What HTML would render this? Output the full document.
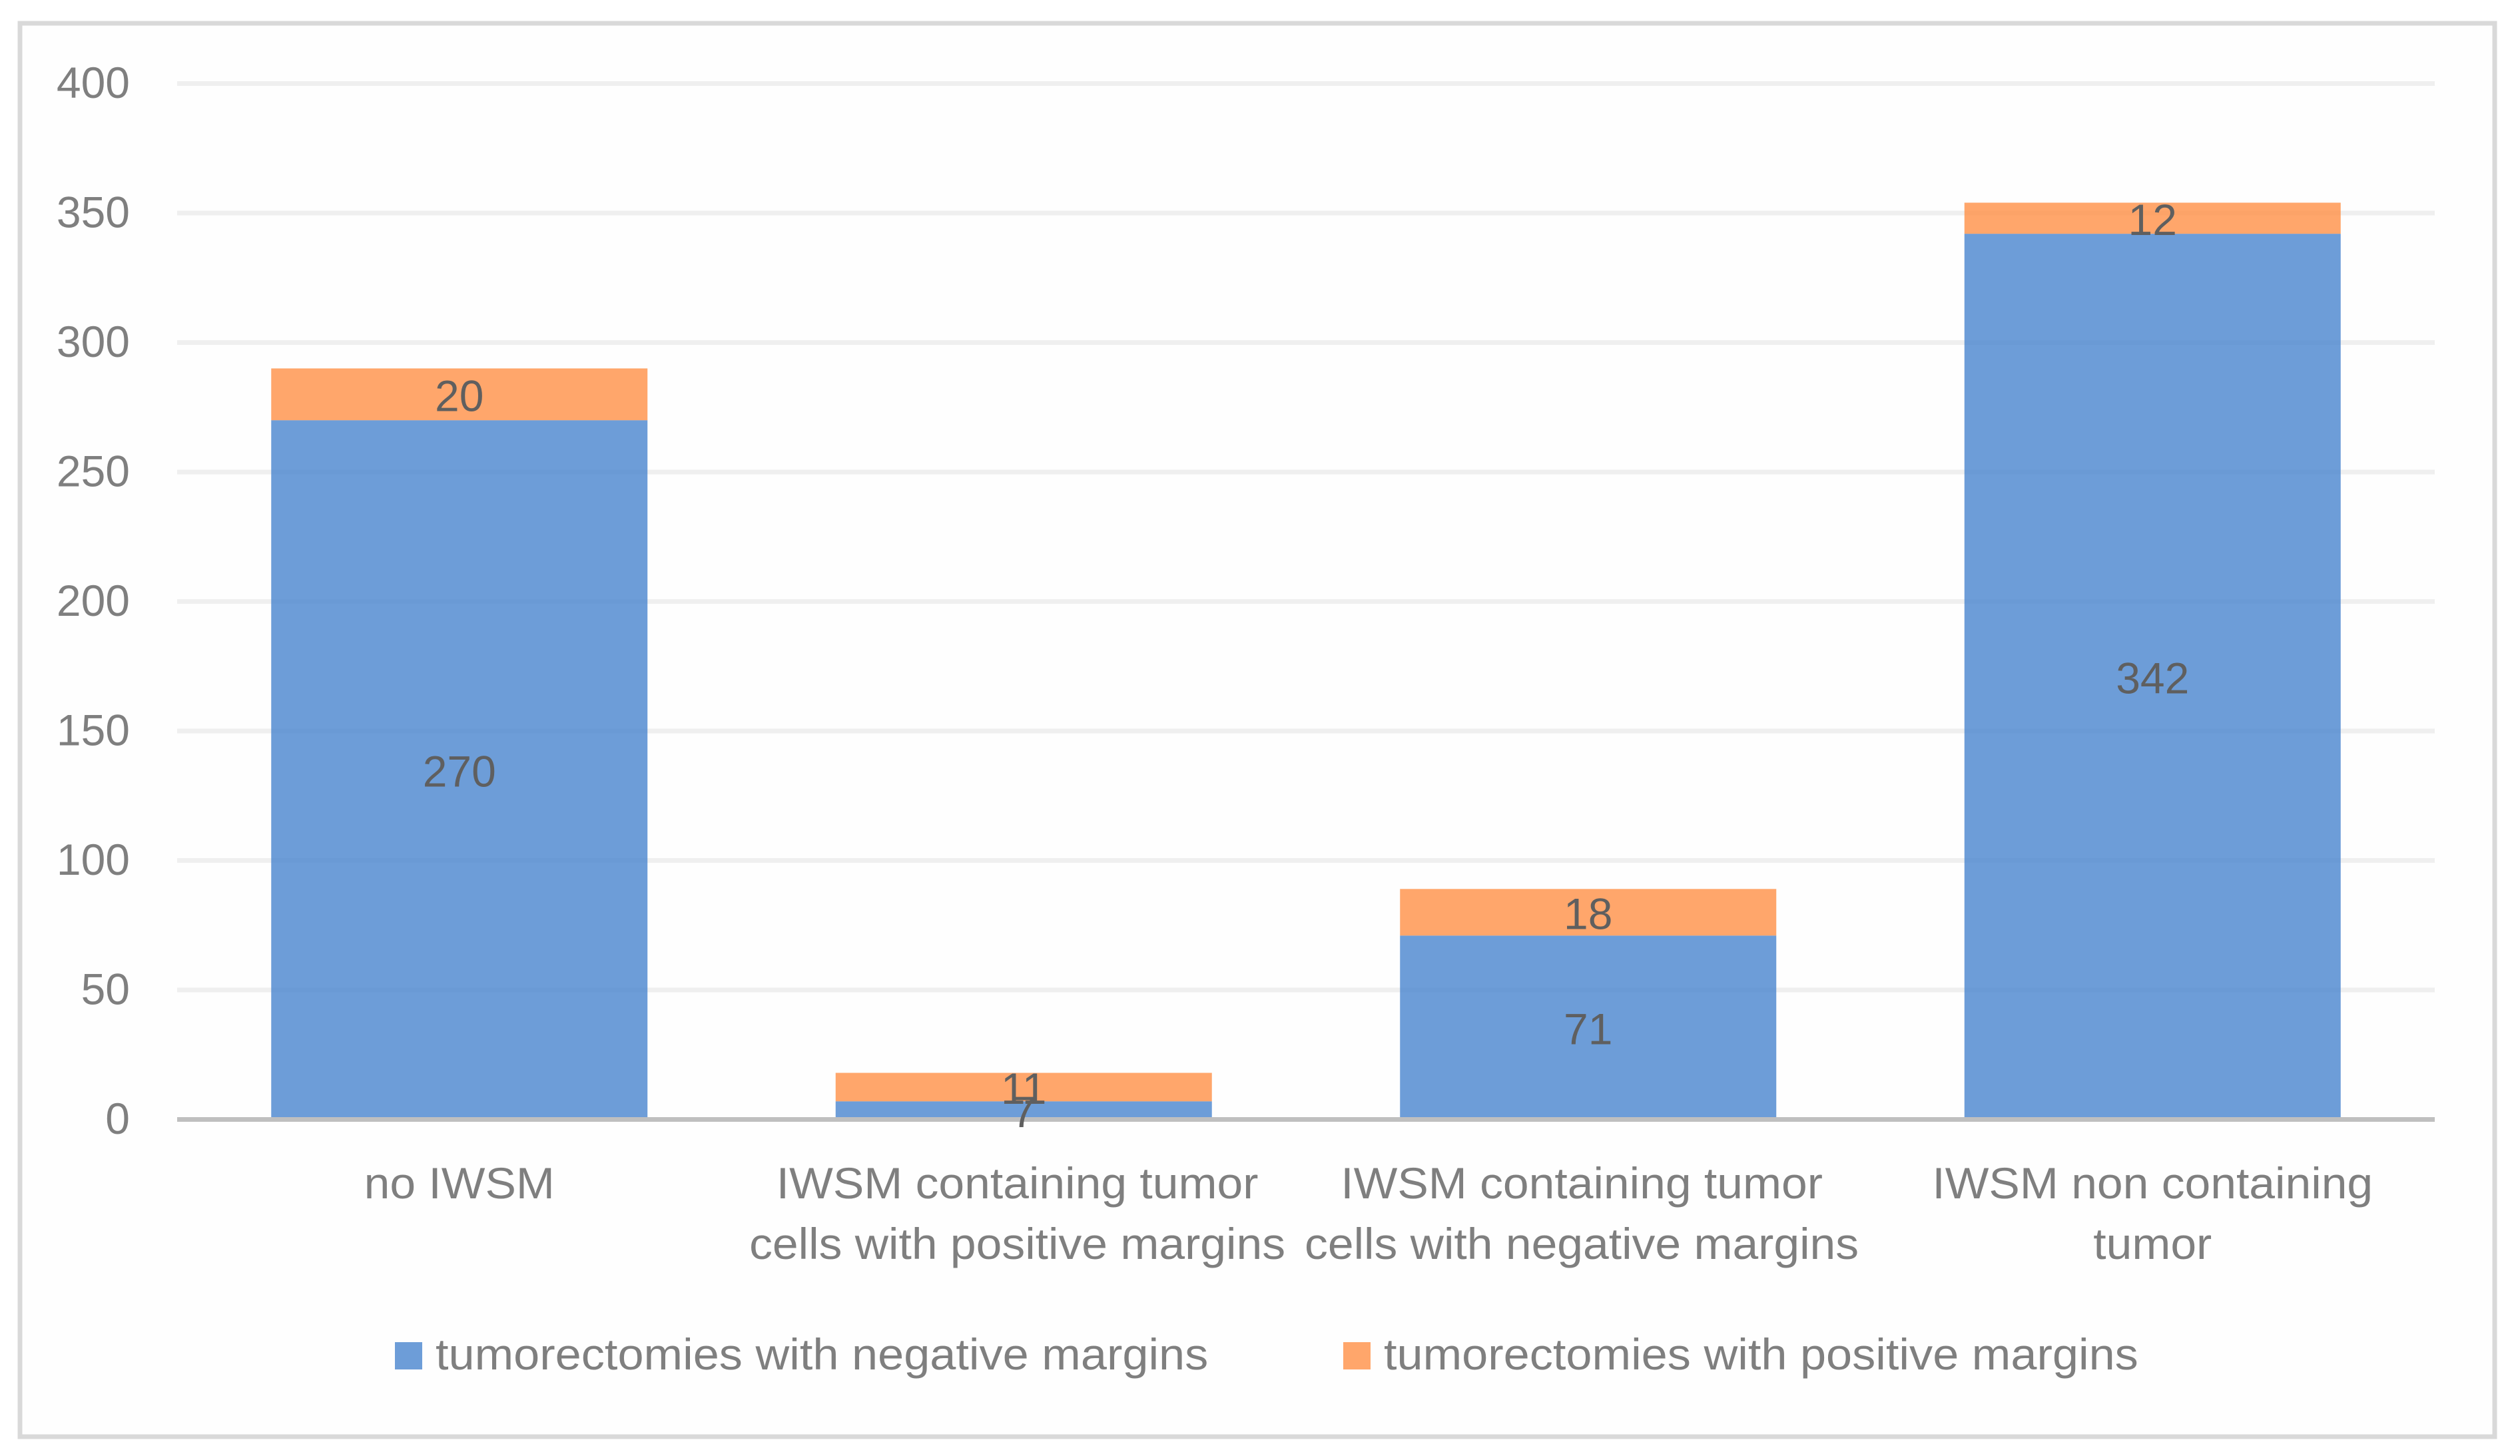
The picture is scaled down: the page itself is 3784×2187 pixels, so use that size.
<!DOCTYPE html>
<html lang="en">
<head>
<meta charset="utf-8">
<title>Tumorectomies by IWSM status and margin result</title>
<style>
  html, body { margin: 0; padding: 0; background: #ffffff; width: 3784px; height: 2187px; overflow: hidden; }
  svg { display: block; font-family: "Liberation Sans", sans-serif; }
</style>
</head>
<body>
<svg id="chart" xmlns="http://www.w3.org/2000/svg" width="3784" height="2187" viewBox="0 0 3784 2187">
  <rect x="30" y="35" width="3716" height="2123" fill="#fefefe" stroke="#d9d9d9" stroke-width="7"/>
  <g id="grid"></g>
  <g id="yTicks"></g>
  <g id="bars"></g>
  <rect x="266" y="1678" width="3390" height="7" fill="#bfbfbf"/>
  <g id="valueLabels"></g>
  <g id="xLabels"></g>
  <g id="legend"></g>
</svg>
<script>
const categories = [
  ["no IWSM"],
  ["IWSM containing tumor\u00A0", "cells with positive margins\u00A0"],
  ["IWSM containing tumor\u00A0", "cells with negative margins\u00A0"],
  ["IWSM non containing", "tumor"]
];
const negativeValues = [270, 7, 71, 342];
const positiveValues = [20, 11, 18, 12];
const tickValues = [0, 50, 100, 150, 200, 250, 300, 350, 400];
const seriesNames = ["tumorectomies with negative margins", "tumorectomies with positive margins"];

const NS = "http://www.w3.org/2000/svg";
const plotLeft = 266, plotRight = 3656, plotBottom = 1681.5, plotTop = 125.5, yMax = 400;
const bandWidth = (plotRight - plotLeft) / categories.length;
const barWidth = bandWidth / 1.5;
const categoryWidthFactor = 1.055;
const legendWidthFactor = 1.065;

function yScale(v) { return plotBottom - (v / yMax) * (plotBottom - plotTop); }
function xCenter(i) { return plotLeft + bandWidth * (i + 0.5); }

function makeEl(tag, parent) {
  const el = document.createElementNS(NS, tag);
  parent.appendChild(el);
  return el;
}
function place(el, x, y, w, h, fill, opacity) {
  el.setAttribute("x", x);
  el.setAttribute("y", y);
  el.setAttribute("width", w);
  el.setAttribute("height", h);
  el.setAttribute("fill", fill);
  if (opacity !== undefined) el.setAttribute("fill-opacity", opacity);
}
function writeText(el, str, x, y, anchor, color) {
  el.textContent = str;
  el.setAttribute("x", x);
  el.setAttribute("y", y);
  el.setAttribute("text-anchor", anchor);
  el.setAttribute("font-size", "66");
  el.setAttribute("fill", color);
}
function condense(el, factor) {
  const len = el.getComputedTextLength();
  el.setAttribute("textLength", (len * factor).toFixed(1));
  el.setAttribute("lengthAdjust", "spacingAndGlyphs");
}

const gridG = document.getElementById("grid");
const tickG = document.getElementById("yTicks");
tickValues.forEach(function (t) {
  if (t > 0) {
    const line = makeEl("rect", gridG);
    
    
    place(line, plotLeft, yScale(t) - 3.5, plotRight - plotLeft, 7, "#efefef");
  }
  const label = makeEl("text", tickG);
  
  
  writeText(label, String(t), 195, yScale(t) + 21.5, "end", "#7f7f7f");
});

const barsG = document.getElementById("bars");
const valG = document.getElementById("valueLabels");
const xG = document.getElementById("xLabels");
const blue = "rgb(72,132,206)", orange = "rgb(255,144,70)";

categories.forEach(function (lines, i) {
  const cx = xCenter(i);
  const neg = negativeValues[i];
  const pos = positiveValues[i];

  const negBar = makeEl("rect", barsG);
  
  
  place(negBar, cx - barWidth / 2, yScale(neg), barWidth, yScale(0) - yScale(neg), blue, 0.8);

  const posBar = makeEl("rect", barsG);
  
  
  place(posBar, cx - barWidth / 2, yScale(neg + pos), barWidth, yScale(neg) - yScale(neg + pos), orange, 0.8);

  const negLabel = makeEl("text", valG);
  
  
  writeText(negLabel, String(neg), cx, yScale(neg / 2) + 25, "middle", "#5f5f5f");

  const posLabel = makeEl("text", valG);
  
  
  writeText(posLabel, String(pos), cx, yScale(neg + pos / 2) + 25, "middle", "#5f5f5f");

  lines.forEach(function (str, j) {
    const catLabel = makeEl("text", xG);
    
    
    writeText(catLabel, str, cx, 1800 + j * 91, "middle", "#7f7f7f");
    condense(catLabel, categoryWidthFactor);
  });
});

const legendG = document.getElementById("legend");
const legendColors = [blue, orange];
const legendStart = [593, 2017];
seriesNames.forEach(function (name, i) {
  const swatch = makeEl("rect", legendG);
  
  
  place(swatch, legendStart[i], 2016, 41, 41, legendColors[i], 0.8);

  const text = makeEl("text", legendG);
  
  
  writeText(text, name, legendStart[i] + 61, 2057, "start", "#7f7f7f");
  condense(text, legendWidthFactor);
});
</script>
</body>
</html>
